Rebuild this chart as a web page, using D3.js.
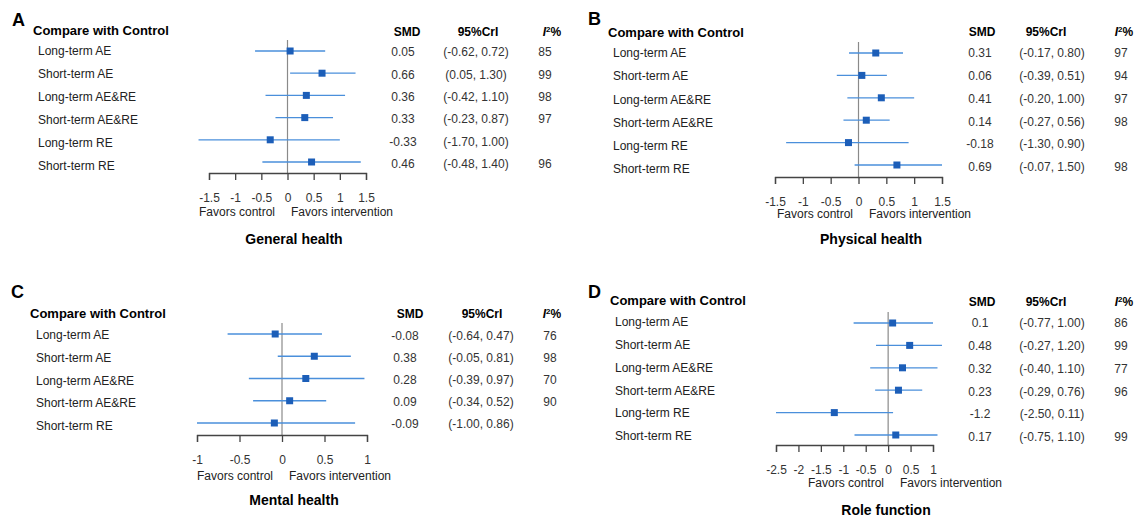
<!DOCTYPE html>
<html>
<head>
<meta charset="utf-8">
<script src="https://cdn.jsdelivr.net/npm/d3@7/dist/d3.min.js"></script>
<style>
body { margin: 0; background: #fff; }
svg { display: block; font-family: Arial, "Liberation Sans", sans-serif; }
</style>
</head>
<body>
<svg id="chart" width="1136" height="520"></svg>
<script>
// data
var groups6 = ["Long-term AE","Short-term AE","Long-term AE&RE","Short-term AE&RE","Long-term RE","Short-term RE"];
var groupsC = ["Long-term AE","Short-term AE","Long-term AE&RE","Short-term AE&RE","Short-term RE"];

var smdA = [0.05, 0.66, 0.36, 0.33, -0.33, 0.46];
var loA  = [-0.62, 0.05, -0.42, -0.23, -1.70, -0.48];
var hiA  = [0.72, 1.30, 1.10, 0.87, 1.00, 1.40];
var i2A  = ["85","99","98","97","","96"];

var smdB = [0.31, 0.06, 0.41, 0.14, -0.18, 0.69];
var loB  = [-0.17, -0.39, -0.20, -0.27, -1.30, -0.07];
var hiB  = [0.80, 0.51, 1.00, 0.56, 0.90, 1.50];
var i2B  = ["97","94","97","98","","98"];

var smdC = [-0.08, 0.38, 0.28, 0.09, -0.09];
var loC  = [-0.64, -0.05, -0.39, -0.34, -1.00];
var hiC  = [0.47, 0.81, 0.97, 0.52, 0.86];
var i2C  = ["76","98","70","90",""];

var smdD = [0.1, 0.48, 0.32, 0.23, -1.2, 0.17];
var loD  = [-0.77, -0.27, -0.40, -0.29, -2.50, -0.75];
var hiD  = [1.00, 1.20, 1.10, 0.76, 0.11, 1.10];
var i2D  = ["86","99","77","96","","99"];

var ticksAB = [-1.5, -1, -0.5, 0, 0.5, 1, 1.5];
var ticksC = [-1, -0.5, 0, 0.5, 1];
var ticksD = [-2.5, -2, -1.5, -1, -0.5, 0, 0.5, 1];

var panelLetters = ["A","B","C","D"];
var outcomes = ["General health","Physical health","Mental health","Role function"];

// layout for each panel
var panels = [
  {letter:panelLetters[0], title:outcomes[0], groups:groups6, smd:smdA, lo:loA, hi:hiA, i2:i2A, ticks:ticksAB,
   letterX:12, letterY:20, headX:33, headY:30, labelX:38, labelY0:51, labelStep:23,
   markY0:51, markStep:22.2, tabY0:52, tabStep:22.4, tabX:[403,476,545], tabHeadX:[407,478,552], tabHeadY:32,
   xr:[209,366], axisY:173, zeroTop:40, favX:283, favY:212, titleX:294, titleY:239},
  {letter:panelLetters[1], title:outcomes[1], groups:groups6, smd:smdB, lo:loB, hi:hiB, i2:i2B, ticks:ticksAB,
   letterX:588, letterY:19, headX:608, headY:32, labelX:613, labelY0:53, labelStep:23.2,
   markY0:53, markStep:22.4, tabY0:53, tabStep:22.8, tabX:[980,1052,1121], tabHeadX:[982,1046,1124], tabHeadY:32,
   xr:[775,942], axisY:177, zeroTop:42, favX:861, favY:214, titleX:871, titleY:239},
  {letter:panelLetters[2], title:outcomes[2], groups:groupsC, smd:smdC, lo:loC, hi:hiC, i2:i2C, ticks:ticksC,
   letterX:11, letterY:292, headX:30, headY:313, labelX:36, labelY0:335, labelStep:22.75,
   markY0:334, markStep:22.25, tabY0:336, tabStep:22, tabX:[405,481,550], tabHeadX:[410,482,552], tabHeadY:314,
   xr:[197,367], axisY:435, zeroTop:323, favX:281, favY:476, titleX:294, titleY:500},
  {letter:panelLetters[3], title:outcomes[3], groups:groups6, smd:smdD, lo:loD, hi:hiD, i2:i2D, ticks:ticksD,
   letterX:588, letterY:292, headX:610, headY:300, labelX:615, labelY0:322, labelStep:22.8,
   markY0:323, markStep:22.4, tabY0:323, tabStep:22.8, tabX:[980,1052,1121], tabHeadX:[982,1046,1124], tabHeadY:302,
   xr:[776,933], axisY:445, zeroTop:312, favX:892, favY:483, titleX:886, titleY:510}
];

var svg = d3.select("#chart");
// plain hyphen for negatives, like the original table
function fmt2(v) { return (v < 0 ? "-" : "") + Math.abs(v).toFixed(2); }
var lineCol = "#4a8fdb", boxCol = "#1c5eb8", txtCol = "#333";

panels.forEach(function(p) {
  var g = svg.append("g");
  var n = p.groups.length;
  var x = d3.scaleLinear().domain([p.ticks[0], p.ticks[p.ticks.length-1]]).range(p.xr);
  var yLab = d3.scaleLinear().domain([0, 1]).range([p.labelY0, p.labelY0 + p.labelStep]);
  var yMark = d3.scaleLinear().domain([0, 1]).range([p.markY0, p.markY0 + p.markStep]);
  var yTab = d3.scaleLinear().domain([0, 1]).range([p.tabY0, p.tabY0 + p.tabStep]);
  var idx = d3.range(n);

  g.append("text").attr("x", p.letterX).attr("y", p.letterY).attr("dy", "0.35em")
    .style("font-size", "18px").style("font-weight", "bold").text(p.letter);
  g.append("text").attr("x", p.headX).attr("y", p.headY).attr("dy", "0.35em")
    .style("font-size", "13px").style("font-weight", "bold").text("Compare with Control");

  g.selectAll(".lab").data(idx).enter().append("text")
    .attr("x", p.labelX).attr("y", function(i) { return yLab(i); }).attr("dy", "0.35em")
    .style("font-size", "12px").attr("fill", "#222")
    .text(function(i) { return p.groups[i]; });

  // zero line
  g.append("line").attr("x1", x(0)).attr("x2", x(0)).attr("y1", p.zeroTop).attr("y2", p.axisY)
    .attr("stroke", "#8a8a8a").attr("stroke-width", 1.2);

  // intervals
  g.selectAll(".ci").data(idx).enter().append("line")
    .attr("x1", function(i) { return x(p.lo[i]); })
    .attr("x2", function(i) { return x(p.hi[i]); })
    .attr("y1", function(i) { return yMark(i); })
    .attr("y2", function(i) { return yMark(i); })
    .attr("stroke", lineCol).attr("stroke-width", 1.3);
  g.selectAll(".pt").data(idx).enter().append("rect")
    .attr("x", function(i) { return x(p.smd[i]) - 3.5; })
    .attr("y", function(i) { return yMark(i) - 3.5; })
    .attr("width", 7).attr("height", 7).attr("fill", boxCol);

  // axis
  var ax = g.append("g").attr("transform", "translate(0," + p.axisY + ")")
    .call(d3.axisBottom(x).tickValues(p.ticks).tickSize(7).tickSizeOuter(7).tickPadding(13)
      .tickFormat(function(d) { return String(d); }));
  ax.select(".domain").attr("stroke", "#444").attr("stroke-width", 1.3);
  ax.selectAll(".tick line").attr("stroke", "#444").attr("stroke-width", 1.3);
  ax.selectAll("text").style("font-size", "12px").style("font-family", "Arial, 'Liberation Sans', sans-serif").attr("fill", txtCol);

  g.append("text").attr("x", p.favX - 8).attr("y", p.favY).attr("dy", "0.35em")
    .attr("text-anchor", "end").style("font-size", "12px").attr("fill", "#222").text("Favors control");
  g.append("text").attr("x", p.favX + 8).attr("y", p.favY).attr("dy", "0.35em")
    .attr("text-anchor", "start").style("font-size", "12px").attr("fill", "#222").text("Favors intervention");
  g.append("text").attr("x", p.titleX).attr("y", p.titleY).attr("dy", "0.35em")
    .attr("text-anchor", "middle").style("font-size", "14px").style("font-weight", "bold").text(p.title);

  // table headers
  g.append("text").attr("x", p.tabHeadX[0]).attr("y", p.tabHeadY).attr("dy", "0.35em")
    .attr("text-anchor", "middle").style("font-size", "12px").style("font-weight", "bold").text("SMD");
  g.append("text").attr("x", p.tabHeadX[1]).attr("y", p.tabHeadY).attr("dy", "0.35em")
    .attr("text-anchor", "middle").style("font-size", "12px").style("font-weight", "bold").text("95%CrI");
  var ih = g.append("text").attr("x", p.tabHeadX[2]).attr("y", p.tabHeadY).attr("dy", "0.35em")
    .attr("text-anchor", "middle").style("font-size", "12px").style("font-weight", "bold");
  ih.append("tspan").style("font-style", "italic").text("I");
  ih.append("tspan").attr("dy", "-4").style("font-size", "8px").text("2");
  ih.append("tspan").attr("dy", "4").text("%");

  // table values
  g.selectAll(".smd").data(idx).enter().append("text")
    .attr("x", p.tabX[0]).attr("y", function(i) { return yTab(i); }).attr("dy", "0.35em")
    .attr("text-anchor", "middle").style("font-size", "12px").attr("fill", txtCol)
    .text(function(i) { return String(p.smd[i]); });
  g.selectAll(".cri").data(idx).enter().append("text")
    .attr("x", p.tabX[1]).attr("y", function(i) { return yTab(i); }).attr("dy", "0.35em")
    .attr("text-anchor", "middle").style("font-size", "12px").attr("fill", txtCol)
    .text(function(i) { return "(" + fmt2(p.lo[i]) + ", " + fmt2(p.hi[i]) + ")"; });
  g.selectAll(".i2").data(idx).enter().append("text")
    .attr("x", p.tabX[2]).attr("y", function(i) { return yTab(i); }).attr("dy", "0.35em")
    .attr("text-anchor", "middle").style("font-size", "12px").attr("fill", txtCol)
    .text(function(i) { return p.i2[i]; });
});
</script>
</body>
</html>
